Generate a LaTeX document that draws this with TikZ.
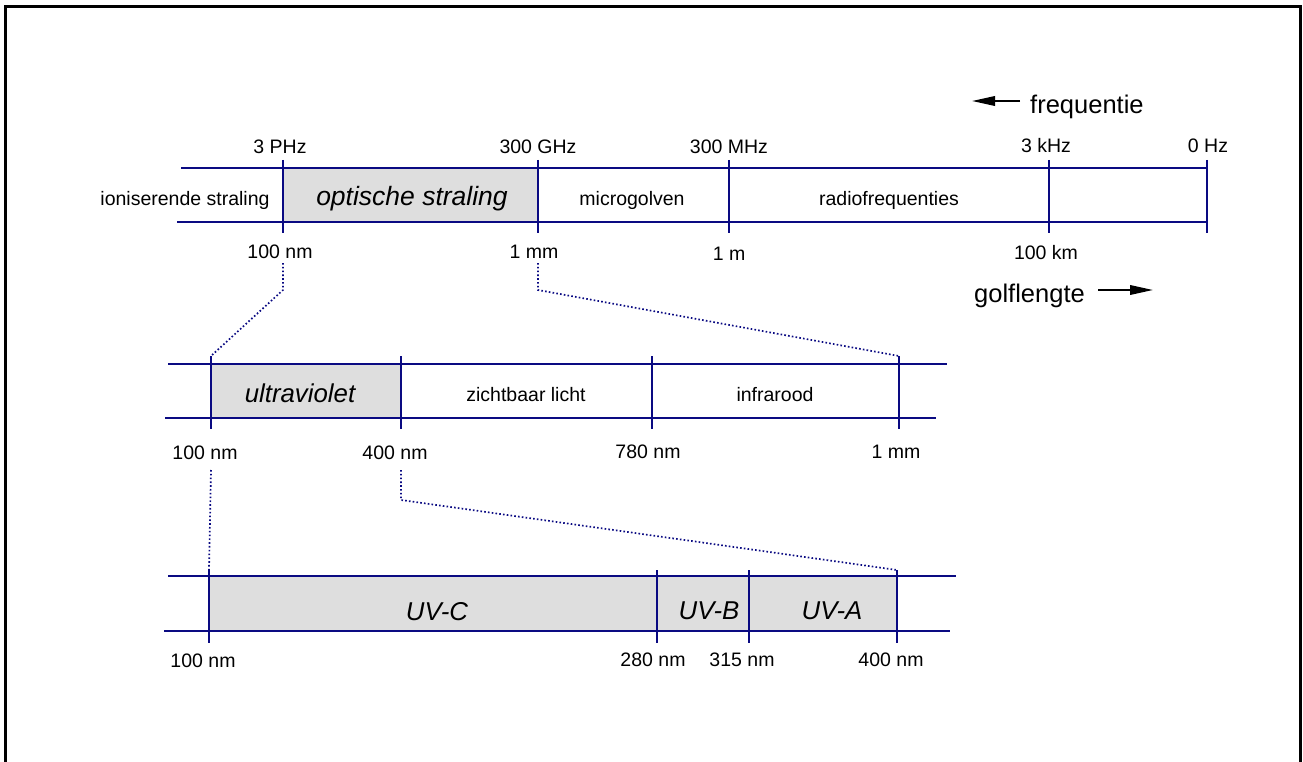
\documentclass[tikz,border=0pt]{standalone}
\usepackage{fontspec}
\setmainfont{Liberation Sans}
\usetikzlibrary{arrows.meta}
\definecolor{bandblue}{RGB}{10,10,130}
\definecolor{bandgray}{RGB}{222,222,222}
\begin{document}
\begin{tikzpicture}[x=1pt,y=-1pt,
  bandline/.style={draw=bandblue,line width=2pt},
  bandfill/.style={fill=bandgray},
  zoomline/.style={draw=bandblue,line width=1.7pt,dash pattern=on 1.6pt off 2.2pt},
  lbl/.style={anchor=base,inner sep=0pt,font=\fontsize{19.5}{23}\selectfont},
  bandtxt/.style={anchor=base,inner sep=0pt,font=\fontsize{19.5}{23}\selectfont},
  bandital/.style={anchor=base,inner sep=0pt,font=\fontsize{25.8}{30}\selectfont\itshape},
  axistxt/.style={anchor=base west,inner sep=0pt,font=\fontsize{25.5}{30}\selectfont},
  dirarrow/.style={draw=black,line width=2pt,-{Triangle[length=23pt,width=9.5pt]}}]
\useasboundingbox (0,0) rectangle (1303,762);
% outer frame, open at the bottom edge
\draw[line width=2.5pt] (5.5,775) -- (5.5,6.3) -- (1300.5,6.3) -- (1300.5,775);

% ---------- whole spectrum ----------
\fill[bandfill] (283,168) rectangle (538,222);
\draw[bandline] (181,168) -- (1207,168);
\draw[bandline] (177,222) -- (1207,222);
\foreach \x/\n in {283/a1,538/a2,729/a3,1049/a4,1207/a5}{
  \draw[bandline] (\x,160) coordinate (\n top) -- (\x,233) coordinate (\n bot);
}
\node[lbl] (f1) at (280,154) {3 PHz};
\node[lbl] (f2) at (538,154) {300 GHz};
\node[lbl] (f3) at (729,154) {300 MHz};
\node[lbl] (f4) at (1046,153) {3 kHz};
\node[lbl] (f5) at (1208,153) {0 Hz};
\node[lbl] (w1) at (280,258) {100 nm};
\node[lbl] (w2) at (534,258) {1 mm};
\node[lbl] (w3) at (729,260) {1 m};
\node[lbl] (w4) at (1046,259) {100 km};
\node[bandtxt] (b1) at (185,206) {ioniserende straling};
\node[bandital,font=\fontsize{26.5}{31}\selectfont\itshape] (b2) at (412,205) {optische straling};
\node[bandtxt] (b3) at (632,206) {microgolven};
\node[bandtxt] (b4) at (889,206) {radiofrequenties};

% direction hints
\node[axistxt] (freq) at (1030,114) {frequentie};
\coordinate (fa) at (1020,101);
\coordinate (fb) at (972,101);
\draw[dirarrow] (fa) -- (fb);
\node[axistxt] (golf) at (974,302) {golflengte};
\coordinate (ga) at (1098,290);
\coordinate (gb) at (1153,290);
\draw[dirarrow] (ga) -- (gb);

% ---------- optical radiation ----------
\fill[bandfill] (211,364) rectangle (401,418);
\draw[bandline] (168,364) -- (947,364);
\draw[bandline] (165,418) -- (936,418);
\foreach \x/\n in {211/m1,401/m2,652/m3,899/m4}{
  \draw[bandline] (\x,356) coordinate (\n top) -- (\x,429) coordinate (\n bot);
}
\node[lbl] (mw1) at (205,459) {100 nm};
\node[lbl] (mw2) at (395,459) {400 nm};
\node[lbl] (mw3) at (648,458) {780 nm};
\node[lbl] (mw4) at (896,458) {1 mm};
\node[bandital] (mb1) at (300,402) {ultraviolet};
\node[bandtxt] (mb2) at (526,401) {zichtbaar licht};
\node[bandtxt] (mb3) at (775,401) {infrarood};

% ---------- ultraviolet ----------
\fill[bandfill] (209,576) rectangle (897,631);
\draw[bandline] (168,576) -- (956,576);
\draw[bandline] (164,631) -- (950,631);
\foreach \x/\n in {209/u1,657/u2,749/u3,897/u4}{
  \draw[bandline] (\x,570) coordinate (\n top) -- (\x,643) coordinate (\n bot);
}
\node[lbl] (uw1) at (203,667) {100 nm};
\node[lbl] (uw2) at (653,666) {280 nm};
\node[lbl] (uw3) at (742,666) {315 nm};
\node[lbl] (uw4) at (891,666) {400 nm};
\node[bandital] (ub1) at (437,620) {UV-C};
\node[bandital] (ub2) at (709,619) {UV-B};
\node[bandital] (ub3) at (832,619) {UV-A};

% ---------- zoom connectors ----------
\coordinate (z1) at (283,263);
\coordinate (z1k) at (283,290);
\draw[zoomline] (z1) -- (z1k) -- (m1top);
\coordinate (z2) at (538,263);
\coordinate (z2k) at (538,290);
\draw[zoomline] (z2) -- (z2k) -- (m4top);
\coordinate (z3) at (211,470);
\draw[zoomline] (z3) -- (u1top);
\coordinate (z4) at (401,470);
\coordinate (z4k) at (401,500);
\draw[zoomline] (z4) -- (z4k) -- (u4top);
\end{tikzpicture}
\end{document}
